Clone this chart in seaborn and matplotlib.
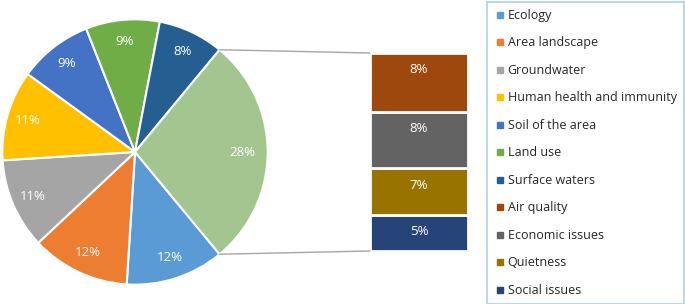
import numpy as np
import matplotlib
matplotlib.use("Agg")
import matplotlib.pyplot as plt
from matplotlib.patches import ConnectionPatch
from matplotlib.lines import Line2D
import seaborn as sb

"""
bar of pie - share of environmental aspects
"""

pie_labels = ["Ecology", "Area landscape", "Groundwater", "Human health and immunity",
              "Soil of the area", "Land use", "Surface waters"]
pie_values = [12, 12, 11, 11, 9, 9, 8]
pie_colors = ["#5B9BD5", "#ED7D31", "#A5A5A5", "#FFC000", "#4472C4", "#70AD47", "#255E91"]

bar_labels = ["Air quality", "Economic issues", "Quietness", "Social issues"]
bar_values = [8.3, 8.0, 6.6, 5.1]
bar_colors = ["#9E480E", "#636363", "#997300", "#264478"]
other_color = "#A3C58F"

sb.set_style("white")
plt.rcParams['font.family'] = ['Open Sans', 'DejaVu Sans']

W, H = 685, 304
fig = plt.figure(figsize=(W / 100, H / 100), dpi=100)

# pie axes (pixel box)
cx, cy, r = 135, 152, 134
ax_pie = fig.add_axes([(cx - r) / W, (H - cy - r) / H, 2 * r / W, 2 * r / H])
other = sum(bar_values)
vals = pie_values + [other]
cols = pie_colors + [other_color]
half = other / sum(vals) * 360 / 2
wedges, texts, autotexts = ax_pie.pie(
    vals, colors=cols, startangle=-half, counterclock=False,
    autopct=lambda p: f"{p:.0f}%", pctdistance=0.84,
    wedgeprops=dict(edgecolor="white", linewidth=1.5),
    textprops=dict(color="white", fontsize=9.5))
autotexts[-1].set_position((0.81, 0))
ax_pie.set_xlim(-1.01, 1.01)
ax_pie.set_ylim(-1.01, 1.01)
ax_pie.set_aspect("equal")
ax_pie.axis("off")

# bar axes
bx0, bx1, by0, by1 = 370, 468, 53, 251
ax_bar = fig.add_axes([bx0 / W, (H - by1) / H, (bx1 - bx0) / W, (by1 - by0) / H])
bottom = 0
for lab, v, c in zip(bar_labels[::-1], bar_values[::-1], bar_colors[::-1]):
    ax_bar.bar(0, v, bottom=bottom, width=1, color=c, edgecolor="white", linewidth=2)
    ax_bar.text(0, bottom + v - min(2.4, v / 2), f"{v:.0f}%", ha="center", va="center",
                color="white", fontsize=9.5)
    bottom += v
ax_bar.set_xlim(-0.5, 0.5)
ax_bar.set_ylim(0, other)
ax_bar.axis("off")

# connector lines
a = np.deg2rad(half)
for sign, yb in [(1, other), (-1, 0)]:
    con = ConnectionPatch(xyA=(np.cos(a), sign * np.sin(a)), coordsA=ax_pie.transData,
                          xyB=(-0.5, yb), coordsB=ax_bar.transData,
                          color="#A6A6A6", linewidth=1)
    fig.add_artist(con)

# legend
handles = [Line2D([], [], marker="s", linestyle="", markersize=5, color=c)
           for c in pie_colors + bar_colors]
leg = fig.legend(handles, pie_labels + bar_labels, loc="upper left",
                 bbox_to_anchor=(487 / W, 1 - 2 / H), frameon=True, fancybox=False,
                 fontsize=9, labelspacing=1.16, handletextpad=0.1, handlelength=1.0,
                 borderpad=0.55, borderaxespad=0)
leg.get_frame().set_edgecolor("#9DC3E6")
leg.get_frame().set_linewidth(1.2)

fig.savefig("out.png", dpi=100)
